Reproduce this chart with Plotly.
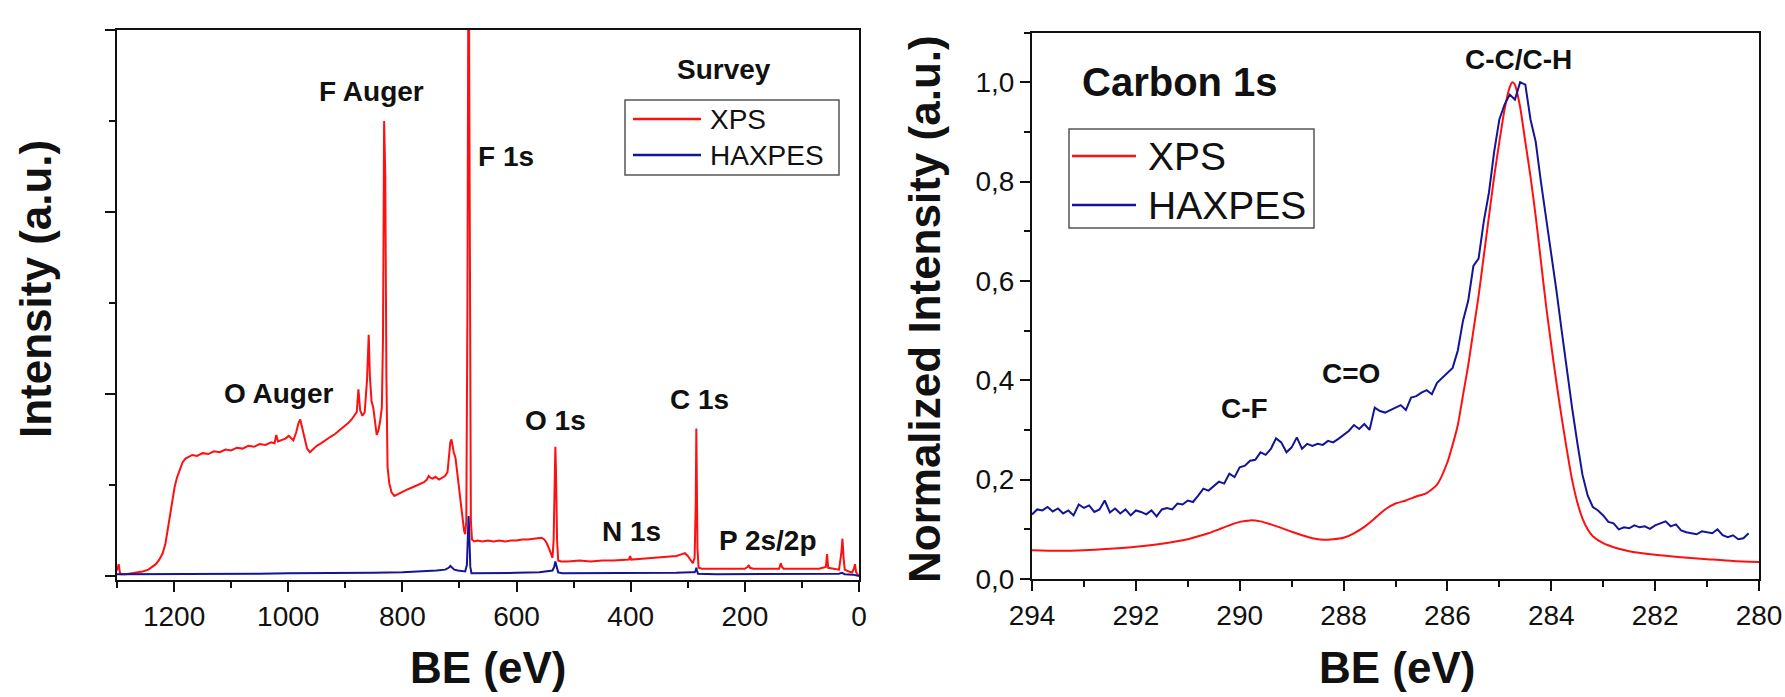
import plotly.graph_objects as go

# ---------------- Survey spectra (left) ----------------
survey_be_xps = [1300, 1297, 1295, 1293, 1285, 1275, 1265, 1255, 1245, 1238, 1232, 1226, 1220, 1215, 1211,
                 1207, 1203, 1199, 1195, 1190, 1185, 1180, 1175, 1168, 1160, 1150, 1140, 1130, 1120, 1110,
                 1100, 1090, 1080, 1070, 1060, 1050, 1040, 1030, 1024, 1021, 1018, 1012, 1005, 999, 995,
                 991, 986, 982, 979, 976, 972, 967, 962, 957, 950, 942, 934, 926, 918, 910, 902, 895, 889,
                 884, 880, 877, 874, 870, 866, 862, 859, 857, 854, 851, 848, 845, 842, 839, 836, 834, 832,
                 830, 828, 826, 823, 819, 814, 808, 800, 792, 784, 776, 768, 762, 757, 754, 751, 747, 742,
                 736, 730, 725, 721, 718, 716, 714, 712, 710, 707, 704, 701, 698, 695, 692, 690, 688, 686,
                 684, 682, 680, 678, 674, 668, 660, 650, 640, 630, 620, 610, 600, 590, 580, 570, 562, 556,
                 551, 547, 543, 540, 537, 535, 533, 532, 531, 529, 527, 522, 510, 490, 470, 450, 430, 410,
                 403, 401, 399, 380, 360, 340, 320, 310, 305, 300, 295, 291, 288, 286, 285, 284, 283, 281,
                 275, 250, 225, 200, 195, 193, 191, 185, 160, 140, 137, 135, 132, 110, 90, 70, 58, 56, 54,
                 45, 35, 31, 29, 27, 25, 18, 12, 9, 7, 5, 2, 0]
survey_int_xps = [0.06, 0.13, 0.04, 0.02, 0.02, 0.03, 0.04, 0.05, 0.07, 0.10, 0.13, 0.18, 0.25, 0.36, 0.52,
                  0.70, 0.86, 0.98, 1.08, 1.17, 1.25, 1.29, 1.31, 1.33, 1.32, 1.35, 1.34, 1.37, 1.36, 1.39,
                  1.38, 1.41, 1.40, 1.43, 1.42, 1.45, 1.44, 1.47, 1.46, 1.55, 1.48, 1.49, 1.51, 1.54, 1.52,
                  1.49, 1.58, 1.68, 1.72, 1.64, 1.50, 1.40, 1.36, 1.39, 1.43, 1.46, 1.50, 1.53, 1.56, 1.60,
                  1.64, 1.68, 1.72, 1.76, 1.80, 2.05, 1.82, 1.76, 1.80, 2.15, 2.65, 2.20, 1.92, 1.85, 1.68,
                  1.55, 1.60, 1.70, 1.85, 2.60, 5.00, 4.40, 2.20, 1.20, 1.02, 0.92, 0.88, 0.90, 0.93, 0.95,
                  0.97, 0.99, 1.01, 1.03, 1.06, 1.10, 1.08, 1.07, 1.09, 1.06, 1.08, 1.10, 1.14, 1.30, 1.47,
                  1.50, 1.42, 1.36, 1.30, 1.15, 1.02, 0.85, 0.66, 0.50, 0.46, 0.60, 3.00, 7.50, 4.00, 0.60,
                  0.40, 0.38, 0.39, 0.38, 0.39, 0.38, 0.39, 0.38, 0.39, 0.39, 0.40, 0.40, 0.41, 0.42, 0.42,
                  0.40, 0.36, 0.30, 0.24, 0.20, 0.40, 1.20, 1.42, 1.20, 0.40, 0.17, 0.16, 0.16, 0.17, 0.16,
                  0.17, 0.17, 0.18, 0.18, 0.22, 0.18, 0.19, 0.20, 0.21, 0.22, 0.24, 0.25, 0.22, 0.17, 0.14,
                  0.20, 0.80, 1.62, 1.10, 0.30, 0.09, 0.08, 0.08, 0.08, 0.08, 0.10, 0.12, 0.09, 0.08, 0.08,
                  0.08, 0.14, 0.10, 0.08, 0.08, 0.08, 0.08, 0.10, 0.24, 0.09, 0.08, 0.07, 0.25, 0.41, 0.20,
                  0.07, 0.05, 0.04, 0.08, 0.13, 0.04, 0.01, 0.00]

survey_be_haxpes = [1300, 1250, 1200, 1150, 1100, 1050, 1000, 950, 900, 850, 800, 760, 740, 725, 719, 716,
                    713, 709, 703, 695, 690, 687, 685, 684, 683, 681, 679, 660, 600, 560, 545, 537, 534, 532,
                    530, 527, 520, 450, 400, 320, 295, 288, 286, 285, 284, 282, 250, 200, 150, 100, 60, 35,
                    30, 25, 10, 5, 0]
survey_int_haxpes = [0.02, 0.02, 0.025, 0.02, 0.025, 0.025, 0.03, 0.03, 0.03, 0.035, 0.04, 0.05, 0.06, 0.07,
                     0.09, 0.11, 0.09, 0.07, 0.06, 0.05, 0.05, 0.12, 0.45, 0.66, 0.50, 0.10, 0.03, 0.03,
                     0.035, 0.04, 0.05, 0.06, 0.10, 0.16, 0.11, 0.04, 0.03, 0.03, 0.03, 0.035, 0.04, 0.04,
                     0.06, 0.09, 0.06, 0.025, 0.02, 0.02, 0.02, 0.02, 0.02, 0.025, 0.035, 0.02, 0.015, 0.01,
                     0.0]

# ---------------- Carbon 1s spectra (right) ----------------
c1s_be_xps = [294.0, 293.5, 293.0, 292.5, 292.0, 291.5, 291.0, 290.8, 290.6, 290.4, 290.2, 290.0, 289.8,
              289.6, 289.4, 289.2, 289.0, 288.8, 288.6, 288.4, 288.2, 288.0, 287.8, 287.6, 287.4, 287.2,
              287.0, 286.8, 286.6, 286.4, 286.2, 286.0, 285.9, 285.8, 285.7, 285.6, 285.5, 285.4, 285.3,
              285.2, 285.1, 285.0, 284.9, 284.8, 284.75, 284.7, 284.6, 284.5, 284.4, 284.3, 284.2, 284.1,
              284.0, 283.9, 283.8, 283.7, 283.6, 283.5, 283.4, 283.3, 283.2, 283.0, 282.8, 282.5, 282.0,
              281.5, 281.0, 280.5, 280.0]
c1s_int_xps = [0.058, 0.057, 0.058, 0.061, 0.065, 0.071, 0.080, 0.086, 0.092, 0.100, 0.108, 0.115, 0.118,
               0.116, 0.110, 0.103, 0.095, 0.088, 0.082, 0.079, 0.080, 0.083, 0.092, 0.105, 0.122, 0.140,
               0.152, 0.158, 0.166, 0.173, 0.190, 0.235, 0.270, 0.310, 0.370, 0.430, 0.500, 0.570, 0.650,
               0.730, 0.810, 0.880, 0.945, 0.990, 1.000, 0.995, 0.950, 0.880, 0.810, 0.730, 0.640, 0.550,
               0.470, 0.395, 0.325, 0.260, 0.200, 0.155, 0.122, 0.100, 0.086, 0.072, 0.064, 0.056, 0.049,
               0.044, 0.040, 0.036, 0.034]

c1s_be_haxpes = [294.0, 293.9, 293.8, 293.7, 293.6, 293.5, 293.4, 293.3, 293.2, 293.1, 293.0, 292.9, 292.8,
                 292.7, 292.6, 292.5, 292.4, 292.3, 292.2, 292.1, 292.0, 291.9, 291.8, 291.7, 291.6, 291.5,
                 291.4, 291.3, 291.2, 291.1, 291.0, 290.9, 290.8, 290.7, 290.6, 290.5, 290.4, 290.3, 290.2,
                 290.1, 290.0, 289.9, 289.8, 289.7, 289.6, 289.5, 289.4, 289.3, 289.2, 289.1, 289.0, 288.9,
                 288.8, 288.7, 288.6, 288.5, 288.4, 288.3, 288.2, 288.1, 288.0, 287.9, 287.8, 287.7, 287.6,
                 287.5, 287.4, 287.3, 287.2, 287.1, 287.0, 286.9, 286.8, 286.7, 286.6, 286.5, 286.4, 286.3,
                 286.2, 286.1, 286.0, 285.9, 285.8, 285.7, 285.6, 285.5, 285.4, 285.3, 285.2, 285.1, 285.0,
                 284.9, 284.8, 284.7, 284.6, 284.5, 284.4, 284.3, 284.2, 284.1, 284.0, 283.9, 283.8, 283.7,
                 283.6, 283.5, 283.4, 283.3, 283.2, 283.1, 283.0, 282.9, 282.8, 282.7, 282.6, 282.5, 282.4,
                 282.3, 282.2, 282.1, 282.0, 281.9, 281.8, 281.7, 281.6, 281.5, 281.4, 281.3, 281.2, 281.1,
                 281.0, 280.9, 280.8, 280.7, 280.6, 280.5, 280.4, 280.3, 280.2]
c1s_int_haxpes = [0.130, 0.140, 0.138, 0.145, 0.136, 0.142, 0.132, 0.138, 0.128, 0.150, 0.143, 0.148, 0.135,
                  0.140, 0.158, 0.134, 0.142, 0.132, 0.140, 0.128, 0.138, 0.135, 0.130, 0.138, 0.126, 0.140,
                  0.143, 0.140, 0.152, 0.150, 0.158, 0.155, 0.168, 0.182, 0.178, 0.188, 0.196, 0.192, 0.212,
                  0.205, 0.225, 0.228, 0.238, 0.240, 0.255, 0.250, 0.262, 0.283, 0.275, 0.255, 0.265, 0.285,
                  0.262, 0.272, 0.268, 0.272, 0.270, 0.278, 0.275, 0.282, 0.290, 0.298, 0.310, 0.302, 0.312,
                  0.300, 0.345, 0.338, 0.335, 0.340, 0.345, 0.350, 0.340, 0.365, 0.368, 0.375, 0.380, 0.372,
                  0.395, 0.405, 0.415, 0.425, 0.460, 0.520, 0.560, 0.630, 0.645, 0.720, 0.778, 0.860, 0.925,
                  0.955, 0.975, 0.965, 1.000, 0.995, 0.925, 0.880, 0.800, 0.730, 0.650, 0.580, 0.500, 0.420,
                  0.345, 0.275, 0.210, 0.168, 0.145, 0.138, 0.128, 0.115, 0.112, 0.100, 0.104, 0.102, 0.108,
                  0.104, 0.106, 0.101, 0.108, 0.112, 0.116, 0.106, 0.110, 0.098, 0.094, 0.092, 0.090, 0.096,
                  0.094, 0.092, 0.100, 0.088, 0.084, 0.088, 0.080, 0.082, 0.092]

survey_labels = ["F Auger", "F 1s", "O Auger", "O 1s", "C 1s", "N 1s", "P 2s/2p"]
c1s_labels = ["C-C/C-H", "C=O", "C-F"]
series_names = ["XPS", "HAXPES"]

RED = "#ff1010"
BLUE = "#141496"
FONT = "Liberation Sans, Arial, sans-serif"
W, H = 1785, 697


def px(x):
    return x / W


def py(y):
    return 1 - y / H


fig = go.Figure()
fig.add_trace(go.Scatter(x=survey_be_xps, y=survey_int_xps, mode="lines", name=series_names[0],
                         line=dict(color=RED, width=2), xaxis="x", yaxis="y", showlegend=False))
fig.add_trace(go.Scatter(x=survey_be_haxpes, y=survey_int_haxpes, mode="lines", name=series_names[1],
                         line=dict(color=BLUE, width=2), xaxis="x", yaxis="y", showlegend=False))
fig.add_trace(go.Scatter(x=c1s_be_xps, y=c1s_int_xps, mode="lines", name=series_names[0],
                         line=dict(color=RED, width=2, shape="spline", smoothing=0.6),
                         xaxis="x2", yaxis="y2", showlegend=False))
fig.add_trace(go.Scatter(x=c1s_be_haxpes, y=c1s_int_haxpes, mode="lines", name=series_names[1],
                         line=dict(color=BLUE, width=2), xaxis="x2", yaxis="y2", showlegend=False))

axis_common = dict(showline=True, linecolor="#111", linewidth=2, mirror=True, ticks="outside",
                   ticklen=10, tickwidth=2, tickcolor="#111", showgrid=False, zeroline=False,
                   automargin=False, ticklabeloverflow="allow",
                   tickfont=dict(family=FONT, size=28, color="#111"))
minor_common = dict(ticks="outside", ticklen=6, tickwidth=2, tickcolor="#111")

fig.update_layout(
    width=W, height=H,
    margin=dict(l=0, r=0, t=0, b=0),
    paper_bgcolor="white", plot_bgcolor="white",
    separators=", ",
    showlegend=False,
    xaxis=dict(domain=[px(117), px(859)], range=[1300, 0], dtick=200, tick0=0,
               minor=dict(dtick=100, **minor_common), anchor="y", **axis_common),
    yaxis=dict(domain=[py(580), py(30)], range=[-0.044, 6], dtick=2, tick0=0, showticklabels=False,
               minor=dict(dtick=1, **minor_common), anchor="x", **axis_common),
    xaxis2=dict(domain=[px(1032), px(1759)], range=[294, 280], dtick=2, tick0=280,
                minor=dict(dtick=1, **minor_common), anchor="y2", **axis_common),
    yaxis2=dict(domain=[py(579), py(32.5)], range=[0, 1.1], dtick=0.2, tick0=0, tickformat=".1f",
                minor=dict(dtick=0.1, **minor_common), anchor="x2", **axis_common),
)

bold = dict(family=FONT, color="#111", weight="bold")


def label(text, x, y, size=28, angle=0):
    fig.add_annotation(text=text, x=px(x), y=py(y), xref="paper", yref="paper",
                       xanchor="center", yanchor="middle", showarrow=False, textangle=angle,
                       font=dict(size=size, **bold))


# axis titles
label("Intensity (a.u.)", 36, 289, size=44, angle=-90)
label("BE (eV)", 488, 667, size=44)
label("Normalized Intensity (a.u.)", 924, 309, size=44, angle=-90)
label("BE (eV)", 1397, 667, size=44)

# survey annotations
survey_pos = [(371, 91), (506, 156), (279, 393), (555, 420), (699, 399), (631, 531), (768, 540)]
for t, (x, y) in zip(survey_labels, survey_pos):
    label(t, x, y)
label("Survey", 724, 69)

# carbon annotations
label("Carbon 1s", 1180, 82, size=40)
c1s_pos = [(1518, 59), (1351, 373), (1244, 408)]
for t, (x, y) in zip(c1s_labels, c1s_pos):
    label(t, x, y)


# legends (box, line keys, entry text) in page pixels
def legend_box(x0, y0, x1, y1, line_x0, line_x1, text_x, rows, size):
    fig.add_shape(type="rect", xref="paper", yref="paper", x0=px(x0), x1=px(x1), y0=py(y1), y1=py(y0),
                  line=dict(color="#555", width=1.5), fillcolor="white", layer="above")
    for (name, color), ry in zip([(series_names[0], RED), (series_names[1], BLUE)], rows):
        fig.add_shape(type="line", xref="paper", yref="paper", x0=px(line_x0), x1=px(line_x1),
                      y0=py(ry), y1=py(ry), line=dict(color=color, width=2.5), layer="above")
        fig.add_annotation(text=name, x=px(text_x), y=py(ry), xref="paper", yref="paper",
                           xanchor="left", yanchor="middle", showarrow=False,
                           font=dict(family=FONT, size=size, color="#111"))


legend_box(625, 100, 839, 175, 633, 701, 708, (119, 155), 28)
legend_box(1069, 129, 1314, 228, 1072, 1136, 1146, (156, 205), 39)

fig.write_html("out.html")
